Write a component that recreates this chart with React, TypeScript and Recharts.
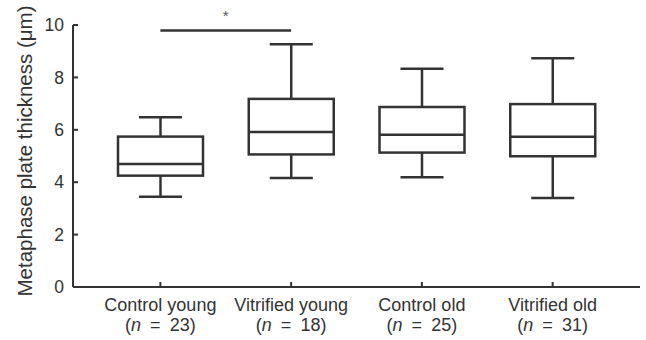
import { ComposedChart, Bar, XAxis, YAxis, ReferenceLine, Label } from 'recharts'

const categories = ['Control young', 'Vitrified young', 'Control old', 'Vitrified old']
const sampleSizes = [23, 18, 25, 31]
const minValues = [3.44, 4.16, 4.19, 3.4]
const q1Values = [4.25, 5.06, 5.13, 4.99]
const medianValues = [4.69, 5.92, 5.81, 5.73]
const q3Values = [5.74, 7.18, 6.87, 6.98]
const maxValues = [6.48, 9.27, 8.33, 8.73]
const yTicks = [0, 2, 4, 6, 8, 10]
const sigLevel = 9.79

const INK = '#333'
const FONT = '"Liberation Sans", Arial, Helvetica, sans-serif'

const data = categories.map((name, i) => ({
  name,
  n: sampleSizes[i],
  min: minValues[i],
  q1: q1Values[i],
  median: medianValues[i],
  q3: q3Values[i],
  max: maxValues[i],
  range: [minValues[i], maxValues[i]],
}))

// draws the whole box + whiskers inside the min..max range bar
function BoxShape(props: any) {
  const { x, y, width, height, payload } = props
  const span = payload.max - payload.min
  const toY = (v: number) => y + (height * (payload.max - v)) / span
  const cx = x + width / 2
  const cap = 21.5
  const yMax = toY(payload.max)
  const yQ3 = toY(payload.q3)
  const yMed = toY(payload.median)
  const yQ1 = toY(payload.q1)
  const yMin = toY(payload.min)
  return (
    <g stroke={INK} strokeWidth={2.5} fill="none">
      <line x1={cx - cap} x2={cx + cap} y1={yMax} y2={yMax} />
      <line x1={cx} x2={cx} y1={yMax} y2={yQ3} />
      <rect x={x} y={yQ3} width={width} height={yQ1 - yQ3} fill="#fff" />
      <line x1={x} x2={x + width} y1={yMed} y2={yMed} />
      <line x1={cx} x2={cx} y1={yQ1} y2={yMin} />
      <line x1={cx - cap} x2={cx + cap} y1={yMin} y2={yMin} />
    </g>
  )
}

function CategoryTick({ x, y, payload, index }: any) {
  return (
    <g fill={INK} fontFamily={FONT} fontSize={18}>
      <text x={x} y={y + 24} textAnchor="middle">
        {payload.value}
      </text>
      <text x={x} y={y + 44} textAnchor="middle">
        (<tspan fontStyle="italic">n</tspan>{'\u2002=\u2002'}{sampleSizes[index]})
      </text>
    </g>
  )
}

export default function App() {
  return (
    <div style={{ position: 'absolute', left: 0, top: 0, background: '#fff' }}>
      <ComposedChart
        width={646}
        height={340}
        data={data}
        margin={{ top: 25, right: 6, bottom: 0, left: 0 }}
      >
        <XAxis
          dataKey="name"
          height={53}
          padding={{ left: 22, right: 22 }}
          tickSize={-5}
          tickMargin={5}
          axisLine={{ stroke: INK, strokeWidth: 2 }}
          tickLine={{ stroke: INK, strokeWidth: 2 }}
          tick={<CategoryTick />}
          interval={0}
        />
        <YAxis
          width={73}
          domain={[0, 10]}
          ticks={yTicks}
          tickSize={-5}
          tickMargin={14}
          axisLine={{ stroke: INK, strokeWidth: 2 }}
          tickLine={{ stroke: INK, strokeWidth: 2 }}
          tick={{ fill: INK, fontSize: 17.5, fontFamily: FONT }}
        >
          <Label
            content={({ viewBox }: any) => {
              const lx = viewBox.x + 32
              const ly = viewBox.y + viewBox.height / 2 - 5
              return (
                <text
                  x={lx}
                  y={ly}
                  transform={`rotate(-90, ${lx}, ${ly})`}
                  textAnchor="middle"
                  fill={INK}
                  fontSize={20.5}
                  fontFamily={FONT}
                >
                  Metaphase plate thickness (μm)
                </text>
              )
            }}
          />
        </YAxis>
        <Bar dataKey="range" barSize={85} shape={<BoxShape />} isAnimationActive={false} />
        <ReferenceLine
          segment={[
            { x: categories[0], y: sigLevel },
            { x: categories[1], y: sigLevel },
          ]}
          stroke={INK}
          strokeWidth={2.5}
          label={{ value: '*', position: 'top', offset: 10, fill: '#555', fontSize: 15, fontFamily: FONT }}
        />
      </ComposedChart>
    </div>
  )
}
